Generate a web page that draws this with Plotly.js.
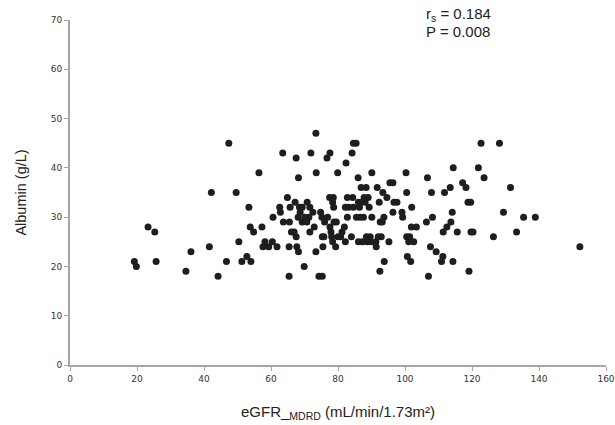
<!DOCTYPE html>
<html>
<head>
<meta charset="utf-8">
<script src="https://cdn.plot.ly/plotly-3.0.1.min.js"></script>
<style>html,body{margin:0;padding:0;background:#fff}#chart{width:615px;height:425px}</style>
</head>
<body>
<div id="chart"></div>
<script>
const egfr = [19.2,19.8,23.3,25.3,25.7,34.6,36.1,41.6,42.2,44.2,46.7,47.4,49.6,50.4,51.3,52.8,53.4,53.8,54.0,54.8,
56.4,57.3,57.6,58.2,59.3,60.4,60.6,61.8,62.6,62.8,63.5,63.7,64.9,65.4,65.4,65.5,65.7,66.1,66.9,67.2,
67.5,67.5,67.7,68.1,68.2,68.2,68.5,68.7,69.3,69.3,69.9,70.1,70.7,70.8,71.3,71.6,71.6,71.9,72.5,72.9,
73.4,73.4,73.5,74.3,74.8,75.3,75.2,75.3,75.5,75.8,76.0,76.7,76.9,77.6,77.5,77.6,77.9,78.1,78.4,78.4,
78.6,78.7,78.8,79.3,79.5,79.9,80.0,80.8,81.2,81.9,82.2,82.4,82.2,82.8,82.8,83.2,84.0,84.2,84.4,84.6,
84.6,85.4,85.5,86.0,86.1,86.1,86.4,86.6,86.9,86.9,87.3,87.6,87.8,88.1,88.4,88.5,88.7,89.0,89.3,89.6,
89.9,90.1,90.1,91.3,91.4,91.7,92.0,92.3,92.5,92.6,92.9,93.2,93.4,93.7,93.8,94.6,95.2,95.5,96.4,96.4,
96.7,97.6,99.1,99.3,100.3,100.5,100.5,100.7,101.1,101.4,101.7,101.9,102.0,102.6,103.4,106.4,106.7,107.0,107.6,107.9,
108.2,109.3,110.9,111.3,111.4,111.8,112.5,113.5,113.7,114.1,114.3,114.4,115.6,117.2,118.2,118.8,119.1,119.6,119.7,120.3,
121.9,122.7,123.6,126.4,128.2,129.4,131.5,133.3,135.4,138.9,152.2];
const albumin = [21,20,28,27,21,19,23,24,35,18,21,45,35,25,21,22,32,28,21,27,
39,28,24,25,24,25,30,24,32,31,43,29,34,18,24,29,32,27,27,33,
42,26,24,30,38,23,32,31,29,32,20,30,29,33,30,32,27,43,31,28,
47,23,39,18,31,18,30,26,24,26,29,42,30,43,34,28,27,26,25,33,
34,32,29,24,29,39,26,26,27,28,25,41,32,30,34,32,26,43,34,45,
32,45,30,38,33,25,32,30,36,33,25,30,34,33,36,26,25,34,32,26,
25,39,30,25,24,36,26,33,19,29,26,29,35,30,21,34,25,37,37,31,
33,33,31,30,39,35,26,22,25,26,21,28,32,25,28,29,38,18,24,35,
30,23,21,22,27,35,28,36,29,31,21,40,27,37,36,33,19,33,27,27,
40,45,38,26,45,31,36,27,30,30,24];
const xTicks = [0,20,40,60,80,100,120,140,160];
const yTicks = [0,10,20,30,40,50,60,70];
const statLines = ['r<sub>s</sub> = 0.184', 'P = 0.008'];

const tickFont = {family:'"DejaVu Sans", sans-serif', size:9, color:'#333'};
const titleFamily = '"Liberation Sans", Arial, sans-serif';
Plotly.newPlot('chart', [{
  x: egfr, y: albumin, type:'scatter', mode:'markers',
  marker:{color:'#1e1e1e', size:7}, hoverinfo:'skip'
}], {
  width:615, height:425,
  margin:{l:70, r:9, t:20, b:60},
  paper_bgcolor:'#fff', plot_bgcolor:'#fff',
  showlegend:false,
  xaxis:{range:[0,160], tickvals:xTicks, ticktext:xTicks.map(String), showgrid:false, zeroline:false,
    showline:true, linecolor:'#a6a6a6', linewidth:2, ticks:'outside', ticklen:4, tickcolor:'#a6a6a6', tickwidth:1,
    tickfont:tickFont,
    title:{text:'eGFR_<sub>MDRD</sub> (mL/min/1.73m²)', font:{family:titleFamily, size:15, color:'#222'}, standoff:24}},
  yaxis:{range:[0,70], tickvals:yTicks, ticktext:yTicks.map(String), showgrid:false, zeroline:false,
    showline:true, linecolor:'#a6a6a6', linewidth:2, ticks:'outside', ticklen:4, tickcolor:'#a6a6a6', tickwidth:1,
    tickfont:tickFont,
    title:{text:'Albumin (g/L)', font:{family:titleFamily, size:14.5, color:'#222'}, standoff:21}},
  annotations:[
    {xref:'paper', yref:'paper', x:0.66, y:1.016, xanchor:'left', yanchor:'middle', align:'left', showarrow:false,
     text:statLines[0], font:{family:titleFamily, size:15, color:'#222'}},
    {xref:'paper', yref:'paper', x:0.66, y:0.967, xanchor:'left', yanchor:'middle', align:'left', showarrow:false,
     text:statLines[1], font:{family:titleFamily, size:15, color:'#222'}}
  ]
}, {displayModeBar:false, staticPlot:true});
</script>
</body>
</html>
